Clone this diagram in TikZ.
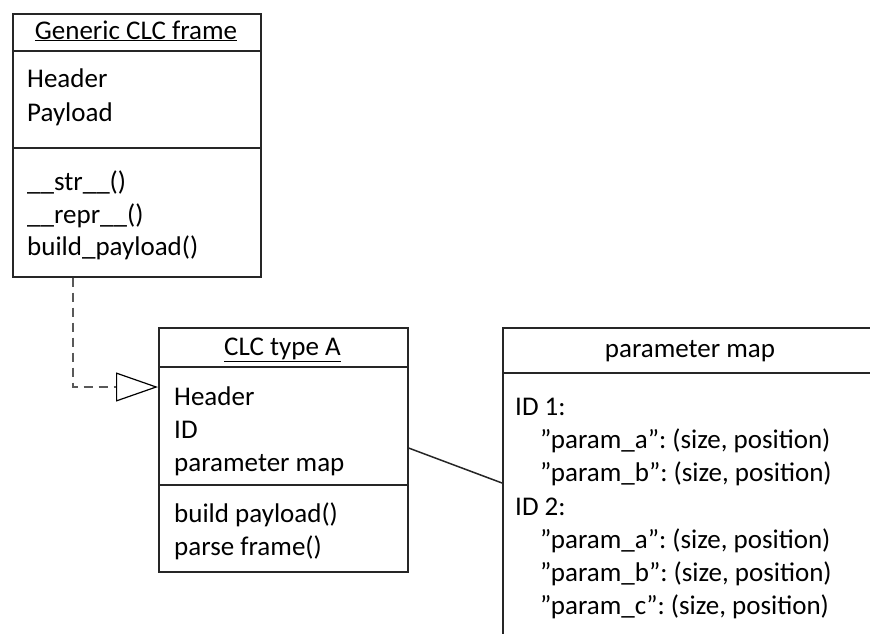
\documentclass[tikz,border=0pt]{standalone}
\usepackage{fontspec}
\setmainfont{Carlito}
\usetikzlibrary{calc,arrows.meta}
\begin{document}
\frenchspacing
\begin{tikzpicture}[x=1pt,y=-1pt,
  box/.style={draw=black!85, line width=1.6pt, inner sep=0pt, anchor=north west},
  sep/.style={draw=black!85, line width=1.6pt},
  txt/.style={anchor=base west, inner sep=0pt, font=\fontsize{27}{33}\selectfont},
  ttl/.style={anchor=base, inner sep=0pt, font=\fontsize{27}{33}\selectfont},
  dep/.style={draw=black!65, line width=2pt, dash pattern=on 9pt off 6pt,
    -{Triangle[open, length=42pt, width=29pt, color=black, line width=1.2pt]}},
  assoc/.style={draw=black!85, line width=1.5pt}]
\useasboundingbox (0,0) rectangle (870,633);
\clip (0,0) rectangle (870,633);

% Generic CLC frame
\node[box, minimum width=248pt, minimum height=263pt] (gen) at (12,13) {};
\draw[sep] ($(gen.north west)+(0,38)$) -- ($(gen.north east)+(0,38)$);
\draw[sep] ($(gen.north west)+(0,135)$) -- ($(gen.north east)+(0,135)$);
\node[ttl] (gent) at (136,39) {\underline{Generic CLC frame}};
\node[txt] (g1) at (27,87) {Header};
\node[txt] (g2) at (27,121) {Payload};
\node[txt] (g3) at (27,190) {\_\_str\_\_()};
\node[txt] (g4) at (27,223) {\_\_repr\_\_()};
\node[txt] (g5) at (27,255) {build\_payload()};

% CLC type A
\node[box, minimum width=249pt, minimum height=244pt] (clc) at (158,327) {};
\draw[sep] ($(clc.north west)+(0,40)$) -- ($(clc.north east)+(0,40)$);
\draw[sep] ($(clc.north west)+(0,158)$) -- ($(clc.north east)+(0,158)$);
\node[ttl] (clct) at (282.5,355) {\underline{CLC type A}};
\node[txt] (c1) at (174,405) {Header};
\node[txt] (c2) at (174,438) {ID};
\node[txt] (c3) at (174,471) {parameter map};
\node[txt] (c4) at (174,522) {build payload()};
\node[txt] (c5) at (174,555) {parse frame()};

% parameter map
\node[box, minimum width=380pt, minimum height=400pt] (pm) at (502,327) {};
\draw[sep] ($(pm.north west)+(0,46)$) -- ($(pm.north east)+(0,46)$);
\node[ttl] (pmt) at (690,357) {parameter map};
\node[txt] (p1) at (515,415) {ID 1:};
\node[txt] (p2) at (540,448) {”param\_a”: (size, position)};
\node[txt] (p3) at (540,481) {”param\_b”: (size, position)};
\node[txt] (p4) at (515,515) {ID 2:};
\node[txt] (p5) at (540,548) {”param\_a”: (size, position)};
\node[txt] (p6) at (540,581) {”param\_b”: (size, position)};
\node[txt] (p7) at (540,614) {”param\_c”: (size, position)};

% connectors
\draw[dep] ($(gen.south west)+(61,0)$) |- ($(clc.north west)+(0,60)$);
\draw[assoc] ($(clc.north east)+(0,121)$) -- ($(pm.north west)+(0,156)$);
\end{tikzpicture}
\end{document}
